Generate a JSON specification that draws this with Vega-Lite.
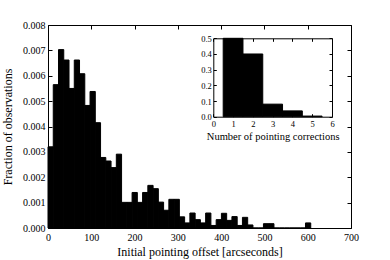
{
  "$schema": "https://vega.github.io/schema/vega-lite/v6.json",
  "width": 303,
  "height": 203,
  "autosize": "none",
  "padding": {"left": 48, "top": 25, "right": 39, "bottom": 32},
  "background": "white",
  "config": {
    "view": {"stroke": null},
    "font": "Liberation Serif",
    "axis": {
      "domainColor": "black",
      "domainWidth": 1,
      "tickColor": "black",
      "tickWidth": 1,
      "tickSize": -4,
      "labelColor": "black",
      "titleColor": "black",
      "labelFont": "Liberation Serif",
      "titleFont": "Liberation Serif",
      "labelFontSize": 10,
      "titleFontSize": 12,
      "titleFontWeight": "normal",
      "grid": false,
      "labelFlush": false,
      "labelOverlap": false
    }
  },
  "datasets": {
    "main": [
      {"x0": 0, "x1": 12.14, "frac": 0.0032},
      {"x0": 12.14, "x1": 24.28, "frac": 0.00565},
      {"x0": 24.28, "x1": 36.42, "frac": 0.00703},
      {"x0": 36.42, "x1": 48.56, "frac": 0.00662},
      {"x0": 48.56, "x1": 60.7, "frac": 0.0055},
      {"x0": 60.7, "x1": 72.84, "frac": 0.00662},
      {"x0": 72.84, "x1": 84.98, "frac": 0.00608},
      {"x0": 84.98, "x1": 97.12, "frac": 0.00483},
      {"x0": 97.12, "x1": 109.26, "frac": 0.00538},
      {"x0": 109.26, "x1": 121.4, "frac": 0.00415},
      {"x0": 121.4, "x1": 133.54, "frac": 0.00278},
      {"x0": 133.54, "x1": 145.68, "frac": 0.00264},
      {"x0": 145.68, "x1": 157.82, "frac": 0.00238},
      {"x0": 157.82, "x1": 169.96, "frac": 0.00291},
      {"x0": 169.96, "x1": 182.1, "frac": 0.00101},
      {"x0": 182.1, "x1": 194.24, "frac": 0.00101},
      {"x0": 194.24, "x1": 206.38, "frac": 0.0014},
      {"x0": 206.38, "x1": 218.52, "frac": 0.00101},
      {"x0": 218.52, "x1": 230.66, "frac": 0.0014},
      {"x0": 230.66, "x1": 242.8, "frac": 0.00168},
      {"x0": 242.8, "x1": 254.94, "frac": 0.00155},
      {"x0": 254.94, "x1": 267.08, "frac": 0.00102},
      {"x0": 267.08, "x1": 279.22, "frac": 0.0007},
      {"x0": 279.22, "x1": 291.36, "frac": 0.00113},
      {"x0": 291.36, "x1": 303.5, "frac": 0.00113},
      {"x0": 303.5, "x1": 315.64, "frac": 0.00044},
      {"x0": 315.64, "x1": 327.78, "frac": 0.0002},
      {"x0": 327.78, "x1": 339.92, "frac": 0.00059},
      {"x0": 339.92, "x1": 352.06, "frac": 0.00033},
      {"x0": 352.06, "x1": 364.2, "frac": 0.0002},
      {"x0": 364.2, "x1": 376.34, "frac": 0.00059},
      {"x0": 376.34, "x1": 388.48, "frac": 0.0001},
      {"x0": 388.48, "x1": 400.62, "frac": 0.00033},
      {"x0": 400.62, "x1": 412.76, "frac": 0.00058},
      {"x0": 412.76, "x1": 424.9, "frac": 0.0003},
      {"x0": 424.9, "x1": 437.04, "frac": 0.00045},
      {"x0": 437.04, "x1": 449.18, "frac": 0.0001},
      {"x0": 449.18, "x1": 461.32, "frac": 0.00042},
      {"x0": 461.32, "x1": 473.46, "frac": 0.00012},
      {"x0": 473.46, "x1": 485.6, "frac": 0},
      {"x0": 485.6, "x1": 497.74, "frac": 0},
      {"x0": 497.74, "x1": 509.88, "frac": 0.00017},
      {"x0": 509.88, "x1": 522.02, "frac": 0.00017},
      {"x0": 522.02, "x1": 534.16, "frac": 0},
      {"x0": 534.16, "x1": 546.3, "frac": 0},
      {"x0": 546.3, "x1": 558.44, "frac": 0},
      {"x0": 558.44, "x1": 570.58, "frac": 0},
      {"x0": 570.58, "x1": 582.72, "frac": 0},
      {"x0": 582.72, "x1": 594.86, "frac": 0},
      {"x0": 594.86, "x1": 607, "frac": 0.0002}
    ],
    "inset": [
      {"lo": 0.5, "hi": 1.5, "frac": 0.5},
      {"lo": 1.5, "hi": 2.5, "frac": 0.4},
      {"lo": 2.5, "hi": 3.5, "frac": 0.08},
      {"lo": 3.5, "hi": 4.5, "frac": 0.037},
      {"lo": 4.5, "hi": 5.5, "frac": 0.004}
    ]
  },
  "layer": [
    {
      "data": {"name": "main"},
      "mark": {"type": "rect", "color": "black", "stroke": "black", "strokeWidth": 1},
      "encoding": {
        "x": {
          "field": "x0", "type": "quantitative",
          "scale": {"domain": [0, 700], "nice": false, "zero": false},
          "axis": {"orient": "bottom", "values": [0, 100, 200, 300, 400, 500, 600, 700], "title": "Initial pointing offset [arcseconds]", "labelPadding": 8, "titlePadding": 4}
        },
        "x2": {"field": "x1"},
        "y": {
          "field": "frac", "type": "quantitative",
          "scale": {"domain": [0, 0.008], "nice": false},
          "axis": {"orient": "left", "values": [0, 0.001, 0.002, 0.003, 0.004, 0.005, 0.006, 0.007, 0.008], "format": ".3f", "title": "Fraction of observations", "labelPadding": 7, "titlePadding": 8}
        },
        "y2": {"datum": 0}
      }
    },
    {
      "data": {"name": "main"},
      "mark": {"type": "rect", "opacity": 0},
      "encoding": {
        "x": {
          "field": "x0", "type": "quantitative",
          "scale": {"domain": [0, 700], "nice": false, "zero": false},
          "axis": {"orient": "top", "values": [0, 100, 200, 300, 400, 500, 600, 700], "labels": false, "title": null}
        },
        "x2": {"field": "x1"},
        "y": {
          "field": "frac", "type": "quantitative",
          "scale": {"domain": [0, 0.008], "nice": false},
          "axis": {"orient": "right", "values": [0, 0.001, 0.002, 0.003, 0.004, 0.005, 0.006, 0.007, 0.008], "labels": false, "title": null}
        },
        "y2": {"datum": 0}
      }
    },
    {
      "data": {"name": "inset"},
      "mark": {"type": "rect", "color": "black", "stroke": "black", "strokeWidth": 1},
      "encoding": {
        "x": {
          "field": "lo", "type": "quantitative",
          "scale": {"domain": [0, 6], "range": [165.3, 284], "nice": false, "zero": false},
          "axis": {"orient": "bottom", "offset": -111.3, "values": [0, 1, 2, 3, 4, 5, 6], "format": "d", "tickSize": -3, "labelPadding": 6, "labelFontSize": 8.5, "title": "Number of pointing corrections", "titleFontSize": 10.5, "titlePadding": 3}
        },
        "x2": {"field": "hi"},
        "y": {
          "field": "frac", "type": "quantitative",
          "scale": {"domain": [0, 0.5], "range": [91.7, 13.3], "nice": false},
          "axis": {"orient": "left", "offset": -165.3, "values": [0, 0.1, 0.2, 0.3, 0.4, 0.5], "format": ".1f", "tickSize": -3, "labelPadding": 5, "labelFontSize": 8.5, "title": null}
        },
        "y2": {"datum": 0}
      }
    },
    {
      "data": {"name": "inset"},
      "mark": {"type": "rect", "opacity": 0},
      "encoding": {
        "x": {
          "field": "lo", "type": "quantitative",
          "scale": {"domain": [0, 6], "range": [165.3, 284], "nice": false, "zero": false},
          "axis": {"orient": "top", "offset": -13.3, "values": [0, 1, 2, 3, 4, 5, 6], "tickSize": -3, "labels": false, "title": null}
        },
        "x2": {"field": "hi"},
        "y": {
          "field": "frac", "type": "quantitative",
          "scale": {"domain": [0, 0.5], "range": [91.7, 13.3], "nice": false},
          "axis": {"orient": "right", "offset": -19, "values": [0, 0.1, 0.2, 0.3, 0.4, 0.5], "tickSize": -3, "labels": false, "title": null}
        },
        "y2": {"datum": 0}
      }
    }
  ],
  "resolve": {
    "scale": {"x": "independent", "y": "independent"},
    "axis": {"x": "independent", "y": "independent"}
  }
}
